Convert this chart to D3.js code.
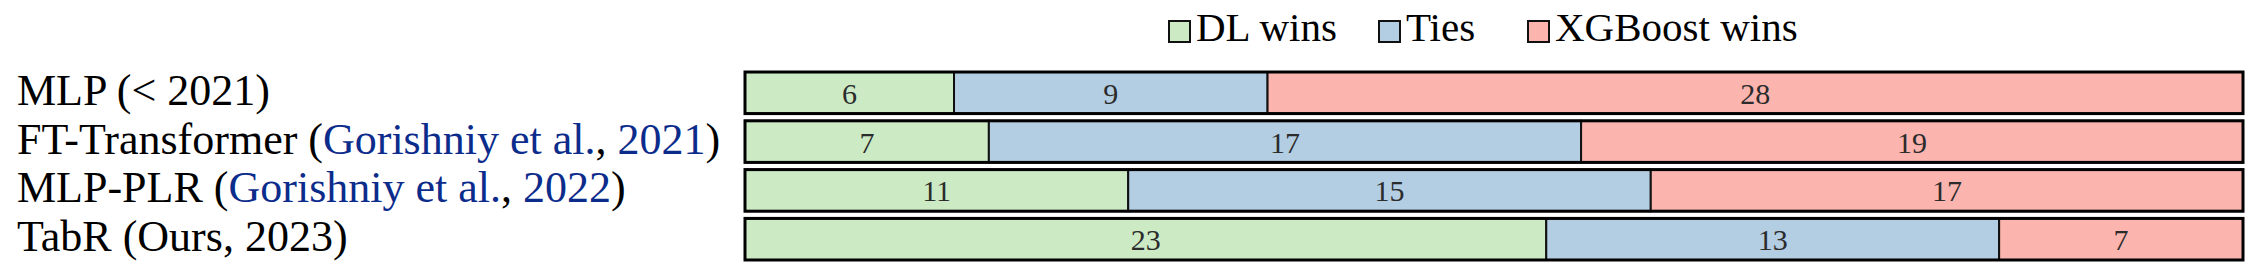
<!DOCTYPE html>
<html>
<head>
<meta charset="utf-8">
<script src="https://cdn.jsdelivr.net/npm/d3@7"></script>
<style>
  body { margin: 0; background: #fff; }
  svg { display: block; font-family: 'Liberation Serif', 'Times New Roman', serif; }
  .bar-label { font-size: 30px; fill: #2b2b2b; }
  .row-label { font-size: 44px; fill: #000; }
  .cite { fill: #0c2c8c; }
  .legend text { font-size: 41px; fill: #000; }
</style>
</head>
<body>
<div id="chart"></div>
<script>
'use strict';

const WIDTH = 2262;
const HEIGHT = 280;

// row labels: pieces of [text, isCitationLink]
const rowLabels = [
  [['MLP (< 2021)', false]],
  [['FT-Transformer (', false], ['Gorishniy et al.', true], [', ', false], ['2021', true], [')', false]],
  [['MLP-PLR (', false], ['Gorishniy et al.', true], [', ', false], ['2022', true], [')', false]],
  [['TabR (Ours, 2023)', false]]
];

const outcomes = ['DL wins', 'Ties', 'XGBoost wins'];
const outcomeColors = ['#ccebc5', '#b3cde3', '#fbb4ae'];

const dlWins = [6, 7, 11, 23];
const ties = [9, 17, 15, 13];
const xgbWins = [28, 19, 17, 7];

window.onload = function () {
  drawChart();
};

function drawChart() {
  const rows = rowLabels.map(function (parts, i) {
    return { id: i, 'DL wins': dlWins[i], 'Ties': ties[i], 'XGBoost wins': xgbWins[i] };
  });
  const total = d3.max(rows, function (d) { return d['DL wins'] + d['Ties'] + d['XGBoost wins']; });

  const svg = d3.select('#chart').append('svg')
    .attr('width', WIDTH)
    .attr('height', HEIGHT);

  const x = d3.scaleLinear()
    .domain([0, total])
    .range([745, 2243]);

  const y = d3.scaleBand()
    .domain(rows.map(function (d) { return d.id; }))
    .range([68.4, 263.6])
    .paddingInner(0.148)
    .paddingOuter(0.074);

  const color = d3.scaleOrdinal()
    .domain(outcomes)
    .range(outcomeColors);

  const series = d3.stack().keys(outcomes)(rows);

  // stacked segments
  const layers = svg.append('g').attr('id', 'bars')
    .selectAll('g')
    .data(series)
    .enter().append('g')
      .attr('fill', function (s) { return color(s.key); });

  layers.selectAll('rect')
      .data(function (s) { return s; })
    .enter().append('rect')
      .attr('x', function (d) { return x(d[0]); })
      .attr('y', function (d) { return y(d.data.id); })
      .attr('width', function (d) { return x(d[1]) - x(d[0]); })
      .attr('height', y.bandwidth())
      .attr('stroke', '#111')
      .attr('stroke-width', 2);

  // thicker outline round each full bar
  svg.append('g').attr('id', 'outlines')
    .selectAll('rect')
    .data(rows)
    .enter().append('rect')
      .attr('x', x(0))
      .attr('y', function (d) { return y(d.id); })
      .attr('width', x(total) - x(0))
      .attr('height', y.bandwidth())
      .attr('fill', 'none')
      .attr('stroke', '#000')
      .attr('stroke-width', 3);

  // counts inside the segments
  layers.selectAll('text')
      .data(function (s) { return s; })
    .enter().append('text')
      .classed('bar-label', true)
      .attr('x', function (d) { return (x(d[0]) + x(d[1])) / 2; })
      .attr('y', function (d) { return y(d.data.id) + y.bandwidth() / 2 + 11; })
      .attr('text-anchor', 'middle')
      .text(function (d) { return d[1] - d[0]; });

  // model names on the left
  const labels = svg.append('g').attr('id', 'labels')
    .selectAll('text')
    .data(rowLabels)
    .enter().append('text')
      .classed('row-label', true)
      .attr('x', 17)
      .attr('y', function (d, i) { return y(i) + y.bandwidth() / 2 + 12; });

  labels.selectAll('tspan')
      .data(function (d) { return d; })
    .enter().append('tspan')
      .classed('cite', function (p) { return p[1]; })
      .style('white-space', 'pre')
      .text(function (p) { return p[0]; });

  // legend
  const legendX = [1168, 1378, 1527];
  const legend = svg.append('g').classed('legend', true)
    .selectAll('g')
    .data(outcomes)
    .enter().append('g')
      .attr('transform', function (d, i) { return 'translate(' + legendX[i] + ',0)'; });

  legend.append('rect')
    .attr('x', 1)
    .attr('y', 21)
    .attr('width', 21)
    .attr('height', 21)
    .attr('fill', function (d) { return color(d); })
    .attr('stroke', '#111')
    .attr('stroke-width', 2);

  legend.append('text')
    .attr('x', 28)
    .attr('y', 41)
    .text(function (d) { return d; });
}
</script>
</body>
</html>
